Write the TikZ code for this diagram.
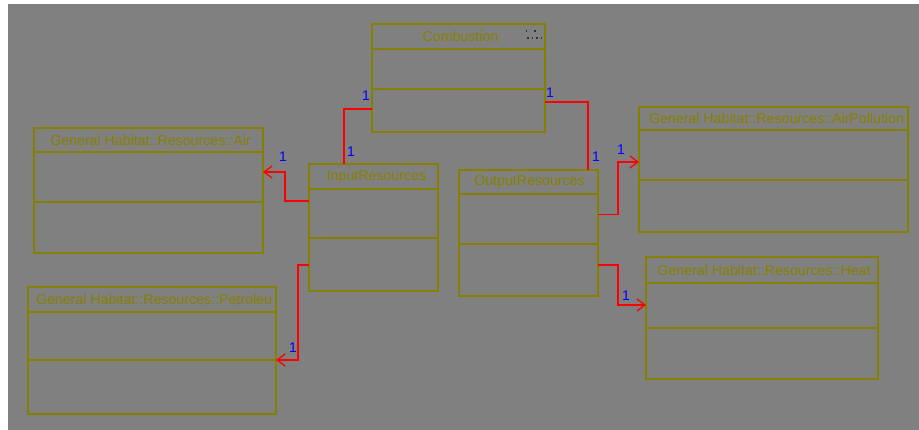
\documentclass[tikz,border=0pt]{standalone}
\usepackage{fontspec}
\setmainfont{Liberation Sans}
\usepackage{tikz}
\usetikzlibrary{arrows.meta,positioning,calc}
\definecolor{bggray}{RGB}{128,128,128}
\definecolor{umlolive}{RGB}{134,128,0}

\begin{document}
\begin{tikzpicture}[x=1pt, y=-1pt,
    classbox/.style={draw=umlolive, line width=1.3pt, inner sep=0pt, outer sep=0pt, anchor=north west},
    classline/.style={umlolive, line width=1.3pt},
    classtitle/.style={text=umlolive, font=\fontsize{14.2}{15}\selectfont, inner sep=0pt},
    assoc/.style={red, line width=1.3pt},
    navassoc/.style={assoc, ->, >={Straight Barb[length=8pt, width=12pt]}},
    mult/.style={text=blue, font=\fontsize{14}{14}\selectfont, inner sep=0pt}
]
    % Canvas
    \useasboundingbox (0,0) rectangle (919,430);
    \fill[bggray] (8,4) rectangle (919,430);

    % Classes
    \node[classbox, minimum width=173pt, minimum height=108pt] (comb) at (372,24) {};
    \node[classbox, minimum width=229pt, minimum height=125pt] (air) at (34,128) {};
    \node[classbox, minimum width=129pt, minimum height=127pt] (input) at (309,164) {};
    \node[classbox, minimum width=139pt, minimum height=126pt] (output) at (459,170) {};
    \node[classbox, minimum width=269pt, minimum height=125pt] (airpoll) at (639,107) {};
    \node[classbox, minimum width=232pt, minimum height=122pt] (heat) at (646,257) {};
    \node[classbox, minimum width=248pt, minimum height=127pt] (petrol) at (28,287) {};

    % Compartments
    \draw[classline] ($(comb.north west)+(0,25)$) -- ($(comb.north east)+(0,25)$);
    \draw[classline] ($(comb.north west)+(0,65)$) -- ($(comb.north east)+(0,65)$);
    \draw[classline] ($(air.north west)+(0,24)$) -- ($(air.north east)+(0,24)$);
    \draw[classline] ($(air.north west)+(0,74)$) -- ($(air.north east)+(0,74)$);
    \draw[classline] ($(input.north west)+(0,25)$) -- ($(input.north east)+(0,25)$);
    \draw[classline] ($(input.north west)+(0,74)$) -- ($(input.north east)+(0,74)$);
    \draw[classline] ($(output.north west)+(0,24)$) -- ($(output.north east)+(0,24)$);
    \draw[classline] ($(output.north west)+(0,74)$) -- ($(output.north east)+(0,74)$);
    \draw[classline] ($(airpoll.north west)+(0,23)$) -- ($(airpoll.north east)+(0,23)$);
    \draw[classline] ($(airpoll.north west)+(0,73)$) -- ($(airpoll.north east)+(0,73)$);
    \draw[classline] ($(heat.north west)+(0,26)$) -- ($(heat.north east)+(0,26)$);
    \draw[classline] ($(heat.north west)+(0,71)$) -- ($(heat.north east)+(0,71)$);
    \draw[classline] ($(petrol.north west)+(0,25)$) -- ($(petrol.north east)+(0,25)$);
    \draw[classline] ($(petrol.north west)+(0,73)$) -- ($(petrol.north east)+(0,73)$);

    % Titles
    \node[classtitle] (combtitle) at ($(comb.north)+(2,12.5)$) {Combustion};
    \node[classtitle] (airtitle) at ($(air.north)+(2,12)$) {General Habitat::Resources::Air};
    \node[classtitle] (inputtitle) at ($(input.north)+(3,13)$) {InputResources};
    \node[classtitle] (outputtitle) at ($(output.north)+(1,12)$) {OutputResources};
    \node[classtitle] (airpolltitle) at ($(airpoll.north)+(3,11.5)$) {General Habitat::Resources::AirPollution};
    \node[classtitle] (heattitle) at ($(heat.north)+(2,13)$) {General Habitat::Resources::Heat};
    \node[classtitle] (petroltitle) at ($(petrol.north)+(2,12.5)$) {General Habitat::Resources::Petroleu};

    % Icon in Combustion header
    \foreach \px/\py in {526.5/31, 535/31, 528/38, 532.5/38, 537/38, 541.5/38}
        \fill[black!80] (\px-0.8,\py-1.2) rectangle (\px+0.8,\py+1.2);

    % Associations
    \draw[assoc] ([yshift=-31pt]comb.west) -| ([xshift=-29.5pt]input.north);
    \draw[assoc] ([yshift=-24pt]comb.east) -| ([xshift=59.5pt]output.north);
    \draw[navassoc] ([yshift=26.5pt]input.west) -- ++(-24,0) |- ([yshift=18.5pt]air.east);
    \draw[navassoc] ([yshift=-37.5pt]input.west) -- ++(-11,0) |- ([yshift=-9.5pt]petrol.east);
    \draw[navassoc] ([yshift=18.5pt]output.east) -- ++(20,0) |- ([yshift=7.5pt]airpoll.west);
    \draw[navassoc] ([yshift=-32pt]output.east) -- ++(20,0) |- ([yshift=13pt]heat.west);

    % Multiplicities
    \node[mult] (m1) at (366,96) {1};
    \node[mult] (m2) at (351,152) {1};
    \node[mult] (m3) at (550,93) {1};
    \node[mult] (m4) at (596,157) {1};
    \node[mult] (m5) at (283,157) {1};
    \node[mult] (m6) at (293,348) {1};
    \node[mult] (m7) at (621,150) {1};
    \node[mult] (m8) at (626,296) {1};
\end{tikzpicture}
\end{document}
